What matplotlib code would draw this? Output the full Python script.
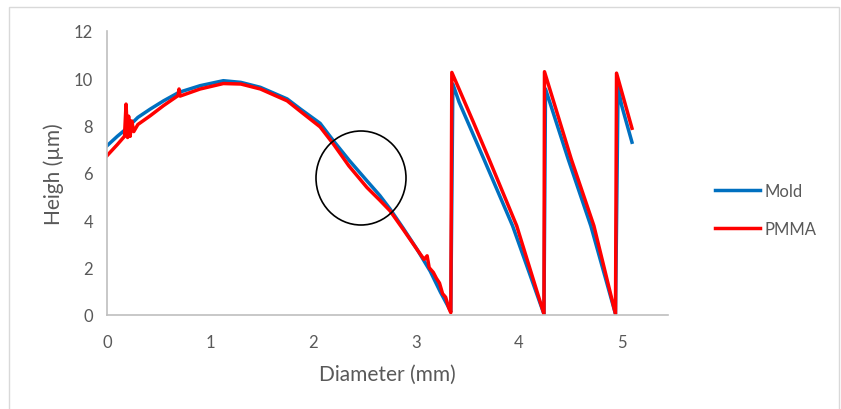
import matplotlib
matplotlib.use('Agg')
import matplotlib.pyplot as plt
from matplotlib.patches import Ellipse, Rectangle

# Mold profile (blue)
mold_x = [0.00, 0.10, 0.185, 0.30, 0.42, 0.55, 0.70, 0.905, 1.13, 1.30, 1.49, 1.75,
          1.88, 2.07, 2.20, 2.35, 2.525, 2.65, 2.75, 2.88, 3.01, 3.14, 3.24, 3.34,
          3.36, 3.42, 3.66, 3.94, 4.245,
          4.26, 4.48, 4.70, 4.94,
          4.965, 5.00, 5.10]
mold_y = [7.15, 7.55, 7.86, 8.35, 8.70, 9.05, 9.41, 9.69, 9.90, 9.83, 9.62, 9.13,
          8.70, 8.10, 7.36, 6.55, 5.67, 5.05, 4.48, 3.65, 2.79, 1.85, 0.96, 0.15,
          9.76, 9.00, 6.60, 3.77, 0.04,
          9.55, 6.59, 3.77, 0.04,
          9.62, 8.85, 7.30]

# PMMA replica (red)
pmma_x = [0.00, 0.10, 0.17, 0.185, 0.20, 0.21, 0.225, 0.24, 0.26, 0.30, 0.42, 0.55,
          0.69, 0.70, 0.71, 0.905, 1.13, 1.30, 1.49, 1.75, 1.88, 2.07, 2.20, 2.35,
          2.525, 2.65, 2.75, 2.88, 3.01, 3.08, 3.11, 3.13, 3.17, 3.20, 3.23, 3.26,
          3.29, 3.32, 3.34,
          3.35, 3.42, 3.56, 3.71, 3.98, 4.245,
          4.25, 4.51, 4.73, 4.94,
          4.95, 5.10]
pmma_y = [6.73, 7.20, 7.55, 8.91, 7.50, 8.40, 7.55, 8.20, 7.75, 8.05, 8.42, 8.85,
          9.27, 9.55, 9.25, 9.55, 9.78, 9.76, 9.55, 9.05, 8.60, 7.95, 7.22, 6.30,
          5.39, 4.85, 4.40, 3.60, 2.78, 2.35, 2.50, 2.00, 1.80, 1.55, 1.35, 0.90,
          0.75, 0.30, 0.10,
          10.25, 9.55, 8.14, 6.60, 3.77, 0.04,
          10.28, 6.59, 3.77, 0.04,
          10.22, 7.89]

x_ticks = [0, 1, 2, 3, 4, 5]
y_ticks = [0, 2, 4, 6, 8, 10, 12]

plt.rcParams['font.family'] = ['Lato', 'DejaVu Sans']
text_col = '#595959'

fig = plt.figure(figsize=(8.41, 4.10), dpi=100)
ax = fig.add_axes([107 / 841, 94 / 410, 561 / 841, 284 / 410])

ax.plot(mold_x, mold_y, color='#0070C0', linewidth=2.5, label='Mold')
ax.plot(pmma_x, pmma_y, color='#FF0000', linewidth=2.5, label='PMMA')

ax.set_xlim(0, 5.45)
ax.set_ylim(0, 12)
ax.set_xticks(x_ticks)
ax.set_yticks(y_ticks)
ax.tick_params(length=0, labelsize=12, colors=text_col)
ax.tick_params(axis='x', pad=14)
ax.tick_params(axis='y', pad=10)
for side in ['top', 'right']:
    ax.spines[side].set_visible(False)
for side in ['left', 'bottom']:
    ax.spines[side].set_color('#bfbfbf')
    ax.spines[side].set_linewidth(1.2)

ax.set_xlabel('Diameter (mm)', fontsize=15, color=text_col, labelpad=10)
ax.set_ylabel('Heigh (\u00b5m)', fontsize=15, color=text_col, labelpad=7)

leg = ax.legend(loc='center left', bbox_to_anchor=(1.057, 0.37), frameon=False,
                fontsize=12, handlelength=2.7, handletextpad=0.3, labelspacing=1.3)
for t in leg.get_texts():
    t.set_color(text_col)

# hand-drawn circle marking the deviation region
fig.patches.append(Ellipse((361 / 841, 1 - 179 / 410), 90 / 841, 94 / 410,
                           transform=fig.transFigure, fill=False,
                           edgecolor='black', linewidth=1.2))
# chart border
fig.patches.append(Rectangle((9 / 841, -0.05), 830 / 841, 1.05 - 8 / 410,
                             transform=fig.transFigure, fill=False,
                             edgecolor='#d9d9d9', linewidth=1.0))

fig.savefig('out.png', dpi=100)
